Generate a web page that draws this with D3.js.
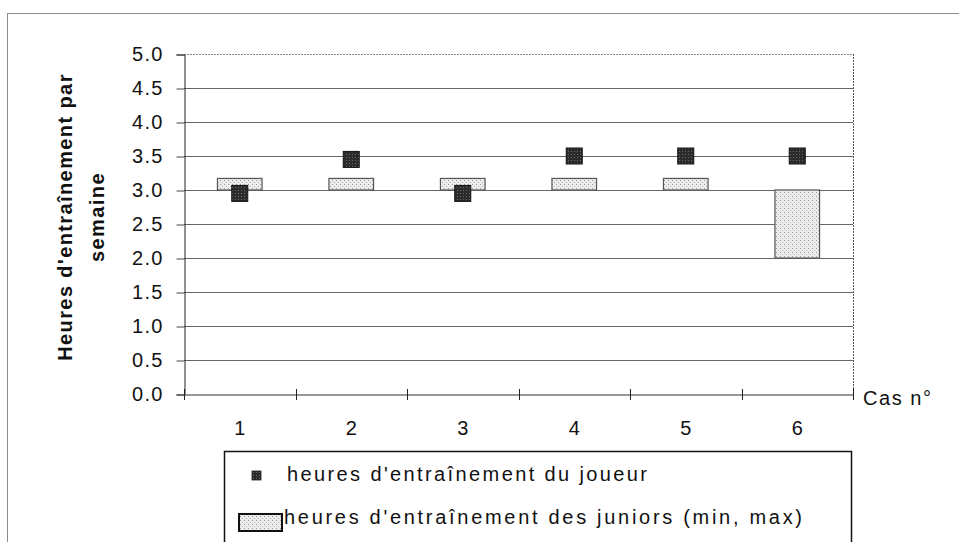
<!DOCTYPE html>
<html>
<head>
<meta charset="utf-8">
<script src="https://cdn.jsdelivr.net/npm/d3@7/dist/d3.min.js"></script>
<style>
  html, body { margin: 0; padding: 0; background: #fff; }
  svg { display: block; font-family: "Liberation Sans", Arial, sans-serif; }
</style>
</head>
<body>
<svg id="chart" width="959" height="542"></svg>
<script>
// Cases studied
const categories = ["1", "2", "3", "4", "5", "6"];
// Weekly training hours of the player, per case
const playerHours = [2.95, 3.45, 2.95, 3.5, 3.5, 3.5];
// Weekly training hours of juniors: range (min, max), per case
const juniorMin = [3.0, 3.0, 3.0, 3.0, 3.0, 2.0];
const juniorMax = [3.17, 3.17, 3.17, 3.17, 3.17, 3.0];
// Value axis ticks
const yTicks = [0, 0.5, 1, 1.5, 2, 2.5, 3, 3.5, 4, 4.5, 5];

const legendLabels = [
  "heures d'entraînement du joueur",
  "heures d'entraînement des juniors (min, max)"
];
const yTitleLines = ["Heures d'entraînement par", "semaine"];
const xTitle = "Cas n°";

const svg = d3.select("#chart");
const plot = { left: 184, right: 853, top: 54, bottom: 394 };
const FONT = "'Liberation Sans', Arial, sans-serif";

// textures
const defs = svg.append("defs");
const stipple = defs.append("pattern")
  .attr("id", "stipple").attr("patternUnits", "userSpaceOnUse")
  .attr("width", 4).attr("height", 4);
stipple.append("rect").attr("width", 4).attr("height", 4).attr("fill", "#ececec");
stipple.append("rect").attr("x", 0).attr("y", 0).attr("width", 1).attr("height", 1).attr("fill", "#9a9a9a");
stipple.append("rect").attr("x", 2).attr("y", 2).attr("width", 1).attr("height", 1).attr("fill", "#b5b5b5");

const dark = defs.append("pattern")
  .attr("id", "dark").attr("patternUnits", "userSpaceOnUse")
  .attr("width", 3).attr("height", 3);
dark.append("rect").attr("width", 3).attr("height", 3).attr("fill", "#2b2b2b");
dark.append("rect").attr("x", 1).attr("y", 1).attr("width", 1).attr("height", 1).attr("fill", "#6a6a6a");

// outer frame
svg.append("rect")
  .attr("x", 7.5).attr("y", 13.5).attr("width", 980).attr("height", 560)
  .attr("fill", "none").attr("stroke", "#8a8a8a").attr("stroke-width", 1);

const x = d3.scaleBand().domain(categories).range([plot.left, plot.right]).padding(0);
const y = d3.scaleLinear().domain([0, 5]).range([plot.bottom, plot.top]);

// grid lines
svg.append("g").selectAll("line")
  .data(yTicks.filter(d => d > 0 && d < 5))
  .join("line")
  .attr("x1", plot.left).attr("x2", plot.right)
  .attr("y1", d => y(d) + 0.5).attr("y2", d => y(d) + 0.5)
  .attr("stroke", "#666").attr("stroke-width", 1);

// plot area border (top and right)
svg.append("line")
  .attr("x1", plot.left).attr("x2", plot.right)
  .attr("y1", plot.top + 0.5).attr("y2", plot.top + 0.5)
  .attr("stroke", "#8a8a8a").attr("stroke-width", 1).attr("stroke-dasharray", "2,1");
svg.append("line")
  .attr("x1", plot.right + 0.5).attr("x2", plot.right + 0.5)
  .attr("y1", plot.top).attr("y2", plot.bottom)
  .attr("stroke", "#555").attr("stroke-width", 1).attr("stroke-dasharray", "2,1");

// y axis
const yAxis = svg.append("g")
  .attr("transform", `translate(${plot.left + 0.5},0.5)`)
  .call(d3.axisLeft(y).tickValues(yTicks).tickFormat(d3.format(".1f")).tickSize(8).tickPadding(13));
yAxis.select(".domain").attr("stroke", "#222");
yAxis.selectAll(".tick line").attr("stroke", "#444");
yAxis.selectAll(".tick text")
  .attr("font-size", 20).attr("fill", "#111").attr("letter-spacing", 1.2)
  .attr("font-family", FONT);

// x axis: labels centred in each band, ticks at band boundaries
const xAxis = svg.append("g")
  .attr("transform", `translate(0,${plot.bottom + 0.5})`)
  .call(d3.axisBottom(x).tickSize(0).tickPadding(26));
xAxis.select(".domain").attr("stroke", "#333");
xAxis.selectAll(".tick text")
  .attr("font-size", 20).attr("fill", "#111")
  .attr("font-family", FONT);

const bounds = categories.map(c => x(c)).concat([x(categories[categories.length - 1]) + x.bandwidth()]);
svg.append("g").selectAll("line")
  .data(bounds)
  .join("line")
  .attr("x1", d => Math.round(d) + 0.5).attr("x2", d => Math.round(d) + 0.5)
  .attr("y1", plot.bottom - 5).attr("y2", plot.bottom + 6)
  .attr("stroke", "#222").attr("stroke-width", 1);

svg.append("text")
  .attr("x", 863).attr("y", 405)
  .attr("font-size", 20).attr("fill", "#111")
  .attr("textLength", 68).attr("lengthAdjust", "spacing")
  .text(xTitle);

// y title (two rotated lines)
const yTitle = svg.append("text")
  .attr("transform", `translate(72,217) rotate(-90)`)
  .attr("text-anchor", "middle")
  .attr("font-size", 20).attr("font-weight", "bold").attr("fill", "#111")
  .attr("letter-spacing", 1.4);
yTitle.append("tspan").attr("x", 0).attr("y", 0).text(yTitleLines[0]);
yTitle.append("tspan").attr("x", 0).attr("y", 32).text(yTitleLines[1]);

// junior range boxes
const boxW = x.bandwidth() * 0.4;
svg.append("g").selectAll("rect")
  .data(categories.map((c, i) => ({ c, lo: juniorMin[i], hi: juniorMax[i] })))
  .join("rect")
  .attr("x", d => x(d.c) + (x.bandwidth() - boxW) / 2)
  .attr("y", d => y(d.hi))
  .attr("width", boxW)
  .attr("height", d => y(d.lo) - y(d.hi))
  .attr("fill", "url(#stipple)")
  .attr("stroke", "#555").attr("stroke-width", 1.2);

// player markers
const mS = 16;
svg.append("g").selectAll("rect")
  .data(categories.map((c, i) => ({ c, v: playerHours[i] })))
  .join("rect")
  .attr("x", d => x(d.c) + x.bandwidth() / 2 - mS / 2)
  .attr("y", d => y(d.v) - mS / 2)
  .attr("width", mS).attr("height", mS)
  .attr("fill", "url(#dark)")
  .attr("stroke", "#111").attr("stroke-width", 1);

// legend
const lg = svg.append("g");
lg.append("rect")
  .attr("x", 224.5).attr("y", 451.5).attr("width", 627).attr("height", 120)
  .attr("fill", "#fff").attr("stroke", "#111").attr("stroke-width", 1.5);
lg.append("rect")
  .attr("x", 252).attr("y", 471).attr("width", 9).attr("height", 9)
  .attr("fill", "url(#dark)").attr("stroke", "#222").attr("stroke-width", 0.8);
lg.append("rect")
  .attr("x", 239).attr("y", 514).attr("width", 43).attr("height", 17)
  .attr("fill", "url(#stipple)").attr("stroke", "#111").attr("stroke-width", 2);
lg.append("text")
  .attr("x", 287).attr("y", 481)
  .attr("font-size", 20).attr("fill", "#111")
  .attr("textLength", 360).attr("lengthAdjust", "spacing")
  .text(legendLabels[0]);
lg.append("text")
  .attr("x", 284).attr("y", 524)
  .attr("font-size", 20).attr("fill", "#111")
  .attr("textLength", 518).attr("lengthAdjust", "spacing")
  .text(legendLabels[1]);
</script>
</body>
</html>
